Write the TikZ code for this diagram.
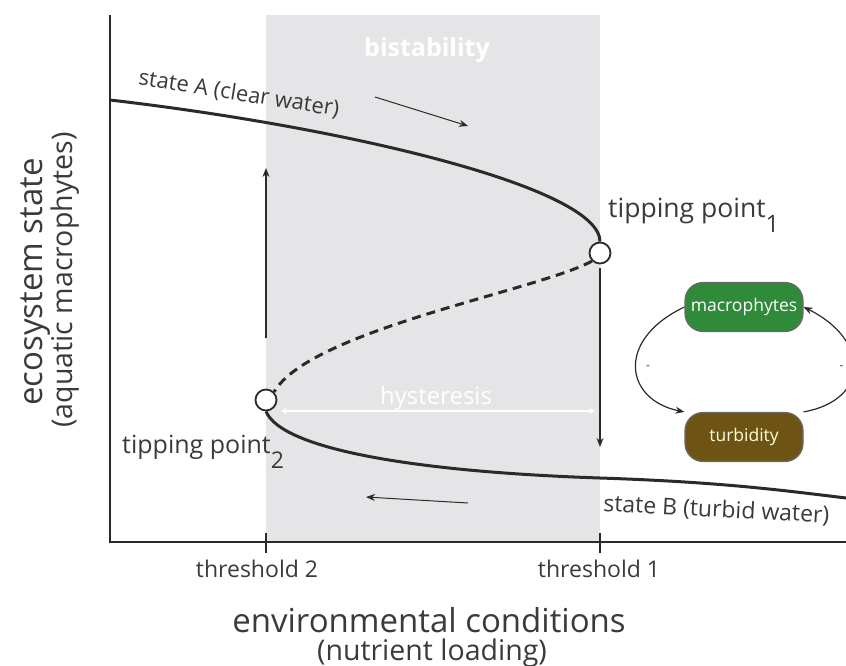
\documentclass[tikz,border=0pt]{standalone}
\usepackage{fontspec}
\setmainfont{Open Sans}
\usetikzlibrary{arrows.meta}
\definecolor{bistgray}{HTML}{E5E5E7}
\definecolor{ink}{HTML}{2A2A2A}
\definecolor{txt}{HTML}{3A3A3A}
\definecolor{mgreen}{HTML}{2F8A3A}
\definecolor{mbrown}{HTML}{6E5414}
\newcommand{\fsz}[1]{\fontsize{#1}{#1}\selectfont}
\tikzset{
  curve/.style={line width=3pt, draw=ink},
  thin arrow/.style={line width=1.3pt, draw=ink, -{Stealth[length=9pt,width=7pt]}},
  fold/.style={circle, draw=ink, line width=1.8pt, fill=white, minimum size=21pt, inner sep=0pt},
  lab/.style={text=txt, inner sep=0pt, anchor=base},
  loopbox/.style={rounded corners=18pt, draw=ink!70, line width=1.2pt, minimum width=118pt, minimum height=49pt, inner sep=0pt, font=\fsz{17.5}}
}
\begin{document}
\begin{tikzpicture}[x=1pt,y=-1pt]
\useasboundingbox (0,0) rectangle (846,666);
% shaded bistability region
\fill[bistgray] (266,15) rectangle (600,542);
\node[lab, text=white, font=\fsz{25}\bfseries] (bist) at (427,57) {bistability};
% axes
\draw[line width=1.6pt, ink] (110,15) -- (110,542) -- (846,542);
\draw[line width=1.6pt, ink] (266,533) -- (266,553);
\draw[line width=1.6pt, ink] (600,533) -- (600,553);
\node[lab, font=\fsz{23}] (th2) at (257,577) {threshold 2};
\node[lab, font=\fsz{23}] (th1) at (599,577) {threshold 1};
\node[lab, font=\fsz{33}] (xl) at (429,632) {environmental conditions};
\node[lab, font=\fsz{28.5}] (xl2) at (432,660) {(nutrient loading)};
\node[lab, rotate=90, font=\fsz{33}] (yl) at (42,282) {ecosystem state};
\node[lab, rotate=90, font=\fsz{28.5}] (yl2) at (72,280) {(aquatic macrophytes)};
% fold points
\node[fold] (tp1) at (600,253) {};
\node[fold] (tp2) at (266,400) {};
\coordinate (a0) at (110,100);
\coordinate (bend) at (846,498);
% branches
\draw[curve] (a0) .. controls (350,128) and (600,188) .. (tp1.north);
\draw[curve, dash pattern=on 9pt off 6pt] (tp1.south west) .. controls (540,290) and (310,330) .. (tp2.north east);
\draw[curve] (tp2.south) .. controls (282,450) and (420,472) .. (600,478) .. controls (720,482) and (780,490) .. (bend);
% white hysteresis arrow
\coordinate (h1) at (281,411);
\coordinate (h2) at (595,411);
\draw[white, line width=2.5pt, {Stealth[length=6pt,width=6pt]}-{Stealth[length=6pt,width=6pt]}] (h1) -- (h2);
\node[lab, text=white, font=\fsz{24}] (hys) at (436,404) {hysteresis};
% direction arrows
\coordinate (v1s) at (266,338); \coordinate (v1e) at (266,168);
\coordinate (v2s) at (600,268); \coordinate (v2e) at (600,447);
\draw[thin arrow] (v1s) -- (v1e);
\draw[thin arrow] (v2s) -- (v2e);
\coordinate (d1s) at (375,97); \coordinate (d1e) at (468,126);
\coordinate (d2s) at (468,503); \coordinate (d2e) at (366,497);
\draw[thin arrow, line width=1pt] (d1s) -- (d1e);
\draw[thin arrow, line width=1pt] (d2s) -- (d2e);
% labels
\node[text=txt, inner sep=0pt, rotate=-9, font=\fsz{22}] (sa) at (239,94) {state A (clear water)};
\node[lab, anchor=base west, font=\fsz{26.5}] (tl1) at (608,217) {tipping point\raisebox{-15pt}{\fsz{24}1}};
\node[lab, anchor=base west, font=\fsz{25}] (tl2) at (122,453) {tipping point\raisebox{-15pt}{\fsz{23}2}};
\node[lab, rotate=-3, font=\fsz{23}] (sb) at (716,517) {state B (turbid water)};
% feedback loop
\node[loopbox, fill=mgreen, text=white] (mac) at (744,307) {macrophytes};
\node[loopbox, fill=mbrown, text=white!85!yellow] (tur) at (744,437) {turbidity};
\draw[thin arrow, line width=1.2pt] (mac.west) .. controls (615,340) and (625,400) .. (tur.north west) node[pos=0.5, right=6pt, text=txt, font=\fsz{12}] {-};
\draw[thin arrow, line width=1.2pt] (tur.north east) .. controls (870,400) and (870,340) .. (mac.east) node[pos=0.5, left=6pt, text=txt, font=\fsz{12}] {-};
\end{tikzpicture}
\end{document}
